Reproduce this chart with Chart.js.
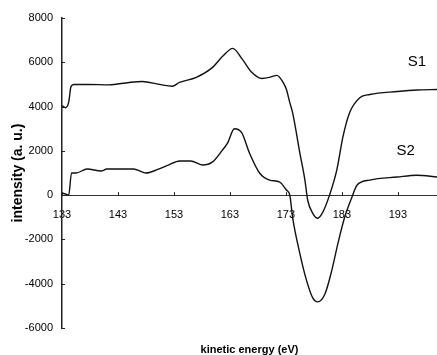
<!DOCTYPE html>
<html>
<head>
<meta charset="utf-8">
<script src="https://cdn.jsdelivr.net/npm/chart.js@4.4.1/dist/chart.umd.min.js"></script>
<style>
  html, body { margin: 0; padding: 0; background: #fff; }
  #wrap { width: 437px; height: 355px; }
</style>
</head>
<body>
<div id="wrap"><canvas id="mainChart" width="437" height="355"></canvas></div>
<script>
// Energías cinéticas (eV) e intensidades
const s1Energy = [133, 133.6, 134.2, 134.6, 135.1, 137.8, 141.4, 145.0, 147.3, 150.4, 152.7, 154.0, 157.0, 159.9, 161.7, 163.5, 165.2, 166.9, 168.7, 170.1, 171.4, 172.5, 173.1, 173.7, 174.2, 175.5, 176.4, 176.9, 177.8, 178.7, 179.6, 180.8, 182.1, 183.2, 184.4, 186.2, 188.0, 192.9, 196.4, 200.0];
const s1Intensity = [4050, 3950, 4200, 4900, 5000, 5000, 4980, 5090, 5130, 5000, 4920, 5090, 5320, 5770, 6270, 6630, 6140, 5550, 5270, 5320, 5410, 5090, 4770, 4180, 3730, 1900, 680, -230, -820, -1045, -770, 0, 1140, 2640, 3730, 4400, 4545, 4680, 4750, 4770];

const s2Energy = [133, 133.6, 134.2, 134.7, 135.5, 137.5, 140.0, 141.0, 145.8, 147.3, 148.0, 150.0, 152.0, 154.0, 156.0, 158.1, 159.9, 161.7, 162.6, 163.8, 165.1, 166.5, 168.3, 170.1, 171.9, 173.1, 173.7, 174.2, 175.5, 176.7, 177.8, 178.7, 180.0, 181.2, 182.3, 183.5, 184.8, 185.7, 188.0, 192.9, 196.4, 200.0];
const s2Intensity = [100, 50, 0, 1000, 1000, 1180, 1090, 1180, 1180, 1050, 1000, 1150, 1360, 1545, 1545, 1360, 1500, 2045, 2360, 3000, 2820, 1900, 1000, 680, 590, 230, 0, -1000, -2640, -3860, -4640, -4820, -4450, -3400, -2180, -1000, -90, 450, 680, 820, 900, 820];

const xTicks = [133, 143, 153, 163, 173, 183, 193];
const seriesNames = ["S1", "S2"];

function toPoints(xs, ys) {
    return xs.map((x, i) => ({ x: x, y: ys[i] }));
}

// Textos extra: nombres de series, título del eje x y marcas de graduación hacia dentro
const extrasPlugin = {
    id: "extras",
    afterDraw(chart) {
        const ctx = chart.ctx;
        const xs = chart.scales.x;
        const ys = chart.scales.y;
        const area = chart.chartArea;
        ctx.save();

        // marcas cortas hacia dentro
        ctx.strokeStyle = "#222";
        ctx.lineWidth = 1;
        const y0 = ys.getPixelForValue(0);
        ys.ticks.forEach((t) => {
            const py = Math.round(ys.getPixelForValue(t.value)) + 0.5;
            ctx.beginPath();
            ctx.moveTo(area.left, py);
            ctx.lineTo(area.left + 3, py);
            ctx.stroke();
        });
        xs.ticks.forEach((t) => {
            const px = Math.round(xs.getPixelForValue(t.value)) + 0.5;
            ctx.beginPath();
            ctx.moveTo(px, y0);
            ctx.lineTo(px, y0 - 3);
            ctx.stroke();
        });

        // nombres de las series
        ctx.fillStyle = "#000";
        ctx.font = "15px 'Liberation Sans', Arial, sans-serif";
        ctx.textAlign = "center";
        ctx.textBaseline = "middle";
        ctx.fillText(seriesNames[0], xs.getPixelForValue(196.4), ys.getPixelForValue(6000));
        ctx.fillText(seriesNames[1], xs.getPixelForValue(194.4), ys.getPixelForValue(2000));

        // título del eje x
        ctx.font = "bold 11px 'Liberation Sans', Arial, sans-serif";
        ctx.fillText("kinetic energy (eV)", (area.left + area.right) / 2, 350);
        ctx.restore();
    },
};

const ctx = document.getElementById("mainChart").getContext("2d");

new Chart(ctx, {
    type: "line",
    data: {
        datasets: [
            {
                label: seriesNames[0],
                data: toPoints(s1Energy, s1Intensity),
                borderColor: "#111",
                borderWidth: 1.4,
                pointRadius: 0,
                cubicInterpolationMode: "monotone",
                fill: false,
            },
            {
                label: seriesNames[1],
                data: toPoints(s2Energy, s2Intensity),
                borderColor: "#111",
                borderWidth: 1.4,
                pointRadius: 0,
                cubicInterpolationMode: "monotone",
                fill: false,
            },
        ],
    },
    options: {
        responsive: false,
        animation: false,
        layout: { padding: { top: 18, bottom: 27, left: 0, right: 0 } },
        plugins: {
            legend: { display: false },
            tooltip: { enabled: false },
        },
        scales: {
            x: {
                type: "linear",
                position: { y: 0 },
                min: 133,
                max: 200,
                afterBuildTicks: (scale) => {
                    scale.ticks = xTicks.map((v) => ({ value: v }));
                },
                grid: { display: false, drawTicks: false },
                border: { display: true, color: "#333", width: 1 },
                ticks: {
                    padding: 13,
                    color: "#000",
                    maxRotation: 0,
                    callback: (v) => String(v),
                    font: { size: 11, family: "'Liberation Sans', Arial, sans-serif" },
                },
            },
            y: {
                min: -6000,
                max: 8000,
                afterFit: (scale) => {
                    scale.width = 62;
                },
                grid: { display: false, drawTicks: false },
                border: { display: true, color: "#222", width: 1.5 },
                ticks: {
                    stepSize: 2000,
                    padding: 9,
                    color: "#000",
                    callback: (v) => String(v),
                    font: { size: 11, family: "'Liberation Sans', Arial, sans-serif" },
                },
                title: {
                    display: true,
                    text: "intensity (a. u.)",
                    color: "#000",
                    padding: { top: 10, bottom: 0 },
                    font: { size: 14, weight: "bold", family: "'Liberation Sans', Arial, sans-serif" },
                },
            },
        },
    },
    plugins: [extrasPlugin],
});
</script>
</body>
</html>
